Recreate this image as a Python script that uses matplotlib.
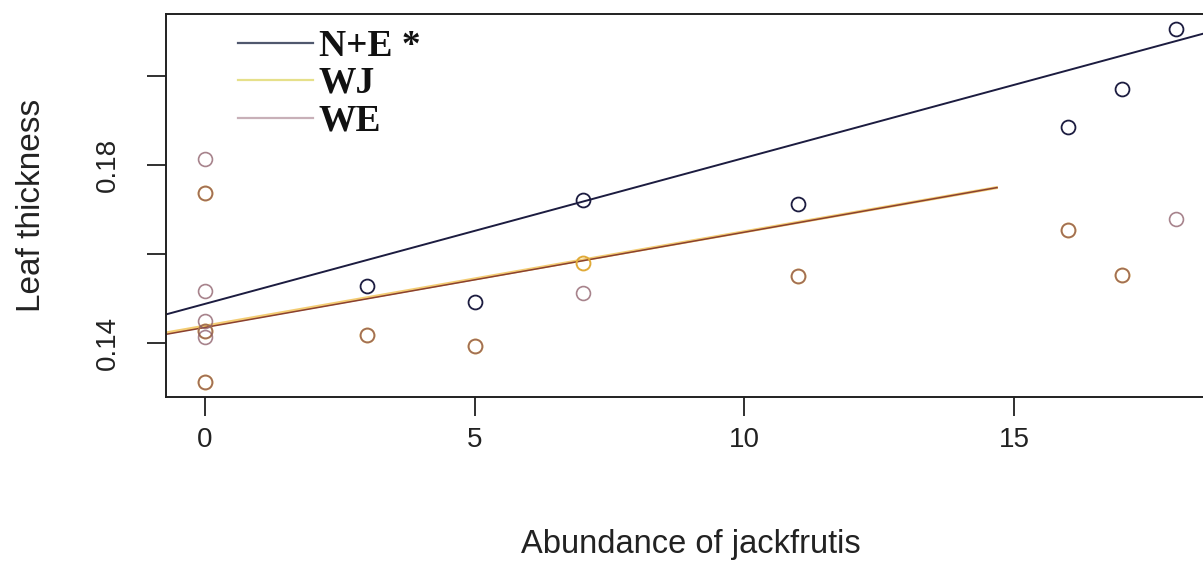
import matplotlib
matplotlib.use("Agg")
import matplotlib.pyplot as plt
import numpy as np

# ---- data ----
ne_x = [3, 5, 7, 11, 16, 17, 18]
ne_y = [0.1527, 0.1492, 0.1721, 0.1712, 0.1885, 0.1970, 0.2105]

wj_x = [0, 0, 0, 3, 5, 7, 11, 16, 17]
wj_y = [0.1738, 0.1427, 0.1313, 0.1418, 0.1393, 0.1579, 0.1551, 0.1655, 0.1553]

we_x = [0, 0, 0, 0, 0, 0, 0, 3, 5, 7, 11, 16, 17, 18]
we_y = [0.1813, 0.1738, 0.1516, 0.1450, 0.1427, 0.1413, 0.1313, 0.1418, 0.1393,
        0.1512, 0.1551, 0.1655, 0.1553, 0.1679]

# fitted lines: intercept, slope, x-range
ne_fit = (0.1488, 0.00328)
ne_fit_x = [-0.72, 18.72]
wj_fit = (0.1438, 0.00212)
wj_fit_x = [-0.72, 14.7]
we_fit = (0.1435, 0.00214)
we_fit_x = [-0.72, 14.7]

x_ticks = [0, 5, 10, 15]
y_ticks = [0.14, 0.16, 0.18, 0.20]
y_ticklabels = ["0.14", "", "0.18", ""]
legend_labels = ["N+E *", "WJ", "WE"]

# ---- figure ----
W, H = 1203, 562
fig = plt.figure(figsize=(W / 100, H / 100), dpi=100)
ax = fig.add_axes([166.2 / W, (H - 397) / H, (1214.6 - 166.2) / W, 383 / H])
ax.set_xlim(-0.72, 18.72)
ax.set_ylim(0.12787, 0.21393)

c_ne = "#1c1c40"
c_wj = "#e0aa38"
c_we = "#8a5a66"

def fit_line(fit, xr):
    xs = np.array(xr, dtype=float)
    return xs, fit[0] + fit[1] * xs

xs, ys = fit_line(ne_fit, ne_fit_x)
ax.plot(xs, ys, color=c_ne, lw=1.4, solid_capstyle="butt")
xs, ys = fit_line(wj_fit, wj_fit_x)
ax.plot(xs, ys, color="#f0c050", lw=2.2, alpha=0.8, solid_capstyle="butt")
xs, ys = fit_line(we_fit, we_fit_x)
ax.plot(xs, ys, color="#8a4030", lw=1.1, solid_capstyle="butt")

ax.plot(wj_x, wj_y, "o", ms=10, mfc="none", mec=c_wj, mew=1.4, linestyle="none")
ax.plot(we_x, we_y, "o", ms=10, mfc="none", mec=c_we, mew=1.2, alpha=0.75, linestyle="none")
ax.plot(ne_x, ne_y, "o", ms=10, mfc="none", mec=c_ne, mew=1.3, linestyle="none")

# ---- axes styling ----
for s in ax.spines.values():
    s.set_linewidth(1.4)
    s.set_color("#202020")

ax.set_xticks(x_ticks)
ax.set_xticklabels([str(t) for t in x_ticks], fontsize=20, family="Liberation Sans", color="#222222")
ax.set_yticks(y_ticks)
ax.set_yticklabels(y_ticklabels, fontsize=20, family="Liberation Sans", rotation=90,
                   va="center", color="#222222")
ax.tick_params(axis="x", length=13.5, width=1.3, pad=8, color="#202020")
ax.tick_params(axis="y", length=13.5, width=1.3, pad=19, color="#202020")

ax.set_xlabel("Abundance of jackfrutis", fontsize=23.5, family="Liberation Sans", color="#222222")
ax.xaxis.set_label_coords(0.5, -(545 - 397) / 383)
ax.xaxis.label.set_va("center")
ax.set_ylabel("Leaf thickness", fontsize=24, family="Liberation Sans", color="#222222")
ax.yaxis.set_label_coords((31 - 166.2) / 1048.4, 0.5)
ax.yaxis.label.set_va("center")

# ---- legend (manual, R style) ----
leg_colors = ["#50586e", "#e6e08a", "#c8b0b8"]
leg_line_y = [43, 80, 118]
for lab, col, py in zip(legend_labels, leg_colors, leg_line_y):
    ya = (397 - py) / 383
    ax.plot([(238 - 166.2) / 1048.4, (313 - 166.2) / 1048.4], [ya, ya],
            transform=ax.transAxes, color=col, lw=1.6, clip_on=False)
    yb = (397 - (py + 12.5)) / 383
    ax.text((319 - 166.2) / 1048.4, yb, lab, transform=ax.transAxes,
            fontsize=27, family="Liberation Serif", fontweight="bold",
            va="baseline", ha="left", color="#111111")

fig.savefig("out.png", dpi=100, facecolor="white")
